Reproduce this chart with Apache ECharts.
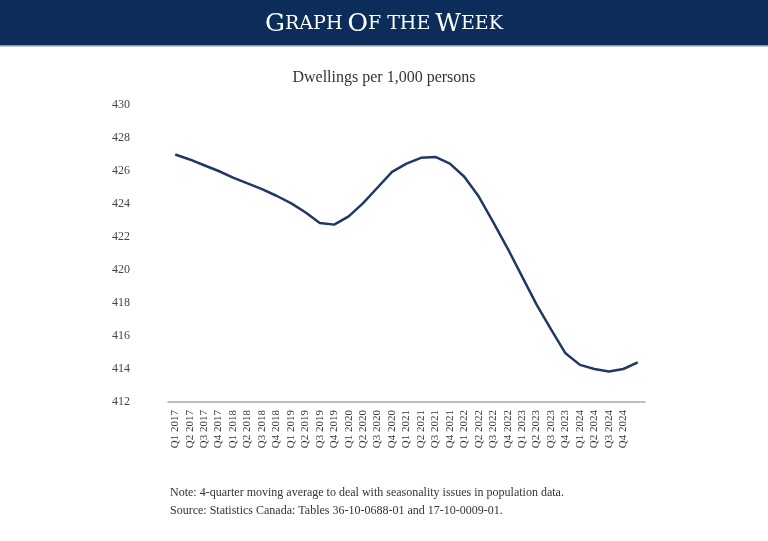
<!DOCTYPE html>
<html style="height: 100%">
<head>
    <meta charset="utf-8">
    <script src="https://cdn.jsdelivr.net/npm/echarts@6/dist/echarts.min.js"></script>
</head>
<body style="height: 100%; margin: 0; background: #fff">
    <div id="container" style="width: 768px; height: 541px"></div>
    <script type="text/javascript">
        // quarters, last slot has no label in the source
        var quarters = [
            'Q1 2017', 'Q2 2017', 'Q3 2017', 'Q4 2017',
            'Q1 2018', 'Q2 2018', 'Q3 2018', 'Q4 2018',
            'Q1 2019', 'Q2 2019', 'Q3 2019', 'Q4 2019',
            'Q1 2020', 'Q2 2020', 'Q3 2020', 'Q4 2020',
            'Q1 2021', 'Q2 2021', 'Q3 2021', 'Q4 2021',
            'Q1 2022', 'Q2 2022', 'Q3 2022', 'Q4 2022',
            'Q1 2023', 'Q2 2023', 'Q3 2023', 'Q4 2023',
            'Q1 2024', 'Q2 2024', 'Q3 2024', 'Q4 2024',
            ''
        ];
        var dwellings = [
            427.0, 426.7, 426.35, 426.0, 425.6, 425.25, 424.9, 424.5,
            424.05, 423.5, 422.85, 422.75, 423.25, 424.05, 425.0, 425.95,
            426.45, 426.8, 426.85, 426.45, 425.65, 424.45, 422.9, 421.3,
            419.6, 417.9, 416.4, 414.95, 414.25, 414.0, 413.85, 414.0,
            414.4
        ];
        var yTicks = { min: 412, max: 430, step: 2 };

        var serif = '"Liberation Serif", "DejaVu Serif", serif';
        var wideSerif = '"DejaVu Serif", serif';
        var dom = document.getElementById("container");
        var myChart = echarts.init(dom);
        var option = {
            backgroundColor: '#ffffff',
            animation: false,
            graphic: [
                {
                    type: 'rect',
                    shape: { x: 0, y: 0, width: 768, height: 45 },
                    style: { fill: '#0c2d5a' }
                },
                {
                    type: 'rect',
                    shape: { x: 0, y: 45, width: 768, height: 1.5 },
                    style: { fill: '#8397b2' }
                },
                {
                    type: 'text',
                    left: 170,
                    top: 484,
                    style: {
                        text: 'Note: 4-quarter moving average to deal with seasonality issues in population data.\nSource: Statistics Canada: Tables 36-10-0688-01 and 17-10-0009-01.',
                        font: '12px ' + serif,
                        fill: '#333',
                        lineHeight: 18
                    }
                }
            ],
            title: [
                {
                    text: '{b|G}{s|RAPH} {b|O}{s|F THE} {b|W}{s|EEK}',
                    left: 'center',
                    top: 7,
                    textStyle: {
                        fontWeight: 'normal',
                        rich: {
                            b: { fontFamily: wideSerif, fontSize: 25, fontWeight: 'normal', color: '#fff' },
                            s: { fontFamily: wideSerif, fontSize: 19, fontWeight: 'normal', color: '#fff' }
                        }
                    }
                },
                {
                    text: 'Dwellings per 1,000 persons',
                    left: 'center',
                    top: 65,
                    textStyle: { fontFamily: serif, fontSize: 16, fontWeight: 'normal', color: '#333' }
                }
            ],
            grid: { left: 168, right: 123, top: 105, bottom: 139 },
            xAxis: {
                type: 'category',
                data: quarters,
                boundaryGap: true,
                axisLine: { lineStyle: { color: '#a6a6a6', width: 1.5 } },
                axisTick: { show: false },
                axisLabel: {
                    interval: 0,
                    rotate: 90,
                    margin: 8,
                    fontFamily: serif,
                    fontSize: 11,
                    color: '#333'
                }
            },
            yAxis: {
                type: 'value',
                min: yTicks.min,
                max: yTicks.max,
                interval: yTicks.step,
                axisLine: { show: false },
                axisTick: { show: false },
                splitLine: { show: false },
                axisLabel: {
                    margin: 38,
                    fontFamily: serif,
                    fontSize: 12,
                    color: '#444'
                }
            },
            series: [{
                type: 'line',
                data: dwellings,
                showSymbol: false,
                smooth: false,
                lineStyle: { color: '#1f3864', width: 2.5 }
            }]
        };
        myChart.setOption(option, true);
    </script>
</body>
</html>
